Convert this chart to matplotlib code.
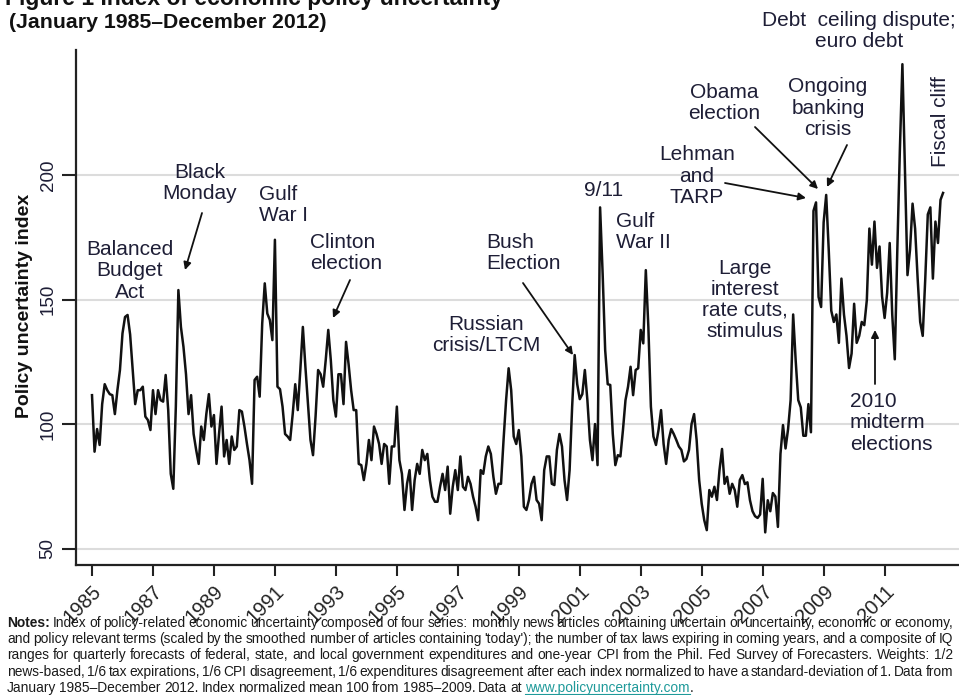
import numpy as np
import matplotlib
matplotlib.use("Agg")
import matplotlib.pyplot as plt
from matplotlib import font_manager
from matplotlib.lines import Line2D
from matplotlib.patches import FancyArrowPatch

# ---------------- data (monthly, Jan 1985 - Dec 2012) ----------------
start_year = 1985
index_values = [
    111.6, 88.9, 98, 91.6, 108, 116, 113.6, 112, 111.6, 104,
    113.6, 121.7, 136.4, 143, 143.8, 136, 121.7, 108, 113.6, 113.6,
    115, 103, 101.6, 97.6, 113.6, 104, 113.6, 109.6, 109, 119.7,
    105.6, 80, 74, 107, 153.8, 139, 131, 120, 104, 111.6,
    96, 89.6, 84, 99, 93.6, 104, 112, 99, 103.6, 84,
    96, 107, 87, 93.6, 84, 95, 89.6, 91, 105.6, 105,
    99, 92, 85.5, 76, 117.7, 119, 111, 140.4, 156.5, 144.4,
    141.8, 133.7, 174, 115, 114, 107, 96, 95, 93.6, 104,
    116, 105.6, 121.7,
    139, 123, 108, 93.6, 87.5, 103, 121.7, 120, 115, 125.7,
    137.8, 125.7, 109.6, 103, 120, 120, 108, 133, 124, 113.6,
    105.6, 105.6, 84, 83.5, 77.5, 84, 93.6, 85.5, 99, 96,
    92, 84, 92, 91, 76, 91, 91, 107, 85.5, 80,
    65.5, 76, 81.5, 65.5, 77.5, 84, 80, 89.6, 85.5, 88,
    77.5, 70.8, 68.8, 68.8, 74.8, 80, 73.5, 82.9, 64, 74.8,
    81.5, 73.5, 87, 74.8, 73.5, 78.8, 76, 70.8, 66.8, 61.4,
    81.5, 80, 87, 91, 88, 78.8, 72, 76, 76, 93.6,
    109.6, 122.4, 113.6, 95, 92, 97.6, 87, 66.8, 65.5, 69.5,
    76, 78.8, 69.5, 68, 61.4,
    81.5, 87, 87, 76, 75.5, 89.6, 96, 91, 77.5, 69.5,
    81.5, 107, 127.7, 116, 110, 112, 121.7, 109.6, 93.6, 85.5,
    100, 83.5, 187, 160.5, 129.7, 116, 115.7, 96, 83.5, 87.5,
    87, 97.6, 109.6, 115, 123, 111.6, 121.7, 122.4, 137.8, 132.4,
    161.8, 139, 107, 95, 91.6, 97.6, 105.6, 92, 84, 93.6,
    98, 96, 93.6, 91, 89.6, 85, 86, 89.6, 100, 104,
    93.6, 77.5, 68, 61.4, 57.4, 73.5, 70.8, 74.8, 69.5, 81.5,
    90, 76, 78.8, 72, 76, 73.5, 66.8, 77.5,
    79.5, 75.9, 76.6, 69.4, 65, 63, 62.3, 63.7, 78, 56.5,
    69.4, 65, 72.3, 70.9, 58.7, 88, 99.6, 90.2, 98, 109.6,
    144, 125.4, 109.6, 106.7, 95.3, 95.3, 108, 96.7, 185.6, 189,
    151, 147, 181, 192, 170, 145.5, 141, 144, 132.6, 158.4,
    144, 135.4, 122.5, 128.3, 148.3, 132.6, 135.4, 141, 139.7, 149.8,
    178.5, 164, 181.3, 162.7, 171.3, 151.2, 142.6, 152.7, 172.7, 144,
    126, 170, 210, 244.5, 201.4, 159.8, 170, 188.5, 178.5, 158.4,
    141, 135.4, 158.4, 184.2, 187, 158.4, 181.3, 172.7, 190, 192.8,
]
tick_years = list(range(1985, 2012, 2))
tick_labels = [str(y) for y in tick_years]
y_ticks = [50, 100, 150, 200]

# ---------------- figure ----------------
W, H = 959, 695
fig = plt.figure(figsize=(W / 100, H / 100), dpi=100)

def F(x, y):
    return (x / W, 1 - y / H)

TXT = "#1e1e36"
plt.rcParams["font.family"] = ["Liberation Sans", "DejaVu Sans"]

ax = fig.add_axes([76 / W, 1 - 565 / H, 1 - 76 / W, (565 - 50) / H])
vals = np.array(index_values, dtype=float)
dates = start_year + np.arange(len(vals)) / 12.0
ax.plot(dates, vals, color="#111111", lw=1.8)

ax.set_xlim(1984.475, 2013.44)
ax.set_ylim(43.4, 250.2)
ax.set_yticks(y_ticks)
ax.set_yticklabels([str(v) for v in y_ticks], rotation=90, va="center",
                   fontsize=13.5, color=TXT)
ax.set_xticks(tick_years)
ax.set_xticklabels(tick_labels, rotation=45, ha="right", va="top",
                   rotation_mode="anchor", fontsize=14.5, color="#222222")
ax.tick_params(axis="y", length=10, width=1.5, pad=4, direction="out", color="#222222")
ax.tick_params(axis="x", length=8, width=1.5, pad=4, direction="out", color="#222222")
ax.grid(axis="y", color="#dcdcdc", lw=1.5)
ax.set_axisbelow(True)
for s in ["top", "right"]:
    ax.spines[s].set_visible(False)
for s in ["left", "bottom"]:
    ax.spines[s].set_linewidth(1.6)
    ax.spines[s].set_color("#222222")

# y label
fig.text(*F(25, 306), "Policy uncertainty index", rotation=90, ha="center",
         va="center", fontsize=14, fontweight="bold", color="#111111")

# titles
fig.text(*F(5, 5), "Figure 1 Index of economic policy uncertainty", ha="left",
         va="baseline", fontsize=16.5, fontweight="bold", color="#111111")
fig.text(*F(9, 23), "(January 1985\u2013December 2012)", ha="left", va="center",
         fontsize=15.3, fontweight="bold", color="#111111")

# annotations
ann_fs = 15
def label(text, x, y, ha="center", ma="center", rot=0):
    fig.text(*F(x, y), text, ha=ha, va="center", multialignment=ma,
             fontsize=ann_fs, color=TXT, linespacing=1.15, rotation=rot)

def arrow(x0, y0, x1, y1):
    fig.add_artist(FancyArrowPatch(
        F(x0, y0), F(x1, y1), transform=fig.transFigure,
        arrowstyle="-|>", mutation_scale=11, lw=1.3, color="#111111",
        shrinkA=0, shrinkB=0))

label("Balanced\nBudget\nAct", 130, 271)
label("Black\nMonday", 200, 183)
arrow(202, 213, 185, 270)
label("Gulf\nWar I", 259, 205, ha="left", ma="left")
label("Clinton\nelection", 310, 253, ha="left", ma="left")
arrow(350, 280, 333, 318)
label("Russian\ncrisis/LTCM", 486, 335)
label("Bush\nElection", 486, 253, ha="left", ma="left")
arrow(523, 283, 573, 355)
label("9/11", 604, 190)
label("Gulf\nWar II", 616, 232, ha="left", ma="left")
label("Lehman\nand\nTARP", 697, 176)
arrow(725, 183, 806, 198)
label("Obama\nelection", 724, 103)
arrow(755, 127, 818, 189)
label("Ongoing\nbanking\ncrisis", 828, 108)
arrow(847, 145, 827, 187)
label("Debt  ceiling dispute;\neuro debt", 859, 31)
label("Large\ninterest\nrate cuts,\nstimulus", 745, 300)
label("2010\nmidterm\nelections", 850, 423, ha="left", ma="left")
arrow(875, 384, 875, 330)
label("Fiscal cliff", 940, 122, rot=90)

# ---------------- notes (justified) ----------------
def has_font(name):
    try:
        font_manager.findfont(name, fallback_to_default=False)
        return True
    except Exception:
        return False

note_family = ["Liberation Sans"]
for cand in ["Liberation Sans Narrow", "DejaVu Sans Condensed"]:
    if has_font(cand):
        note_family = [cand]
        break

note_lines = [
    "Notes: Index of policy-related economic uncertainty composed of four series: monthly news articles containing uncertain or uncertainty, economic or economy,",
    "and policy relevant terms (scaled by the smoothed number of articles containing 'today'); the number of tax laws expiring in coming years, and a composite of IQ",
    "ranges for quarterly forecasts of federal, state, and local government expenditures and one-year CPI from the Phil. Fed Survey of Forecasters. Weights: 1/2",
    "news-based, 1/6 tax expirations, 1/6 CPI disagreement, 1/6 expenditures disagreement after each index normalized to have a standard-deviation of 1. Data from",
    "January 1985\u2013December 2012. Index normalized mean 100 from 1985\u20132009. Data at www.policyuncertainty.com.",
]
note_ys = [623, 639, 655, 672, 688]
x_left, x_right = 7, 953
URL_C = "#1f9a9a"

fig.canvas.draw()
r = fig.canvas.get_renderer()

def make(word, fs, color="#1a1a1a", bold=False):
    return fig.text(0, 0, word, fontsize=fs, family=note_family, va="center",
                    ha="left", color=color, fontweight="bold" if bold else "normal")

def build(fs):
    probe1 = make("a a", fs); probe2 = make("aa", fs)
    sw = probe1.get_window_extent(r).width - probe2.get_window_extent(r).width
    probe1.remove(); probe2.remove()
    lines = []
    for line in note_lines:
        objs = []
        for w in line.split(" "):
            if w.startswith("www."):
                url = w.rstrip(".")
                objs.append((make(url, fs, color=URL_C), "url"))
                objs.append((make(".", fs), "nospace"))
            else:
                objs.append((make(w, fs, bold=(w == "Notes:")), None))
        widths = [o.get_window_extent(r).width for o, _ in objs]
        lines.append((objs, widths))
    return sw, lines

def clear(lines):
    for objs, _ in lines:
        for o, _ in objs:
            o.remove()

# find a font size so the widest justified line fits with small gaps
fs0 = 10.0
sw, lines = build(fs0)
nat = []
for (objs, widths) in lines[:-1]:
    ng = sum(1 for j in range(1, len(objs)) if objs[j][1] != "nospace")
    nat.append(sum(widths) + ng * sw * 0.55)
fs = min(11.0, fs0 * (x_right - x_left) / max(nat))
clear(lines)
sw, lines = build(fs)

for i, ((objs, widths), yy) in enumerate(zip(lines, note_ys)):
    ng = sum(1 for j in range(1, len(objs)) if objs[j][1] != "nospace")
    if i < len(lines) - 1:
        gap = (x_right - x_left - sum(widths)) / max(ng, 1)
    else:
        gap = sw * 0.8
    x = x_left
    for j, ((o, tag), w) in enumerate(zip(objs, widths)):
        if j > 0 and tag != "nospace":
            x += gap
        o.set_position(F(x, yy))
        if tag == "url":
            fig.add_artist(Line2D([x / W, (x + w) / W], [1 - (yy + 6) / H] * 2,
                                  transform=fig.transFigure, color=URL_C, lw=0.8))
        x += w

fig.savefig("out.png", dpi=100)
